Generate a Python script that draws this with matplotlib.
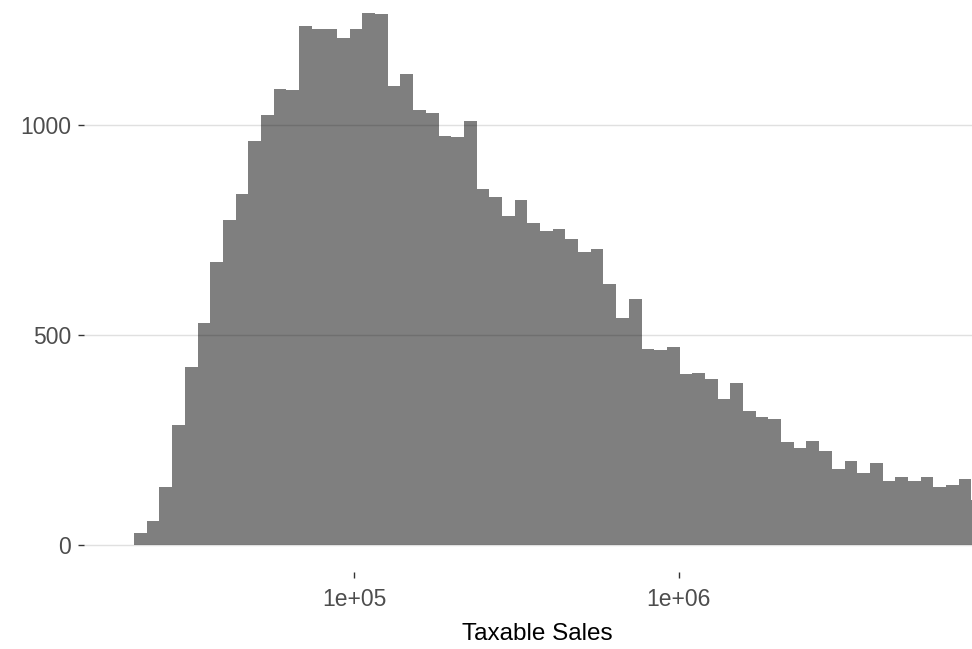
import numpy as np
import matplotlib
matplotlib.use("Agg")
import matplotlib.pyplot as plt

plt.rcParams['font.family'] = ['Liberation Sans', 'DejaVu Sans']

# histogram of taxable sales, log10 bins (only the visible part of the chart)
counts = [29, 59, 139, 287, 425, 529, 674, 774, 836, 963,
          1025, 1087, 1083, 1236, 1230, 1230, 1208, 1230, 1268, 1264,
          1093, 1121, 1036, 1030, 974, 972, 1010, 849, 829, 783,
          821, 767, 749, 754, 730, 698, 706, 621, 540, 586,
          467, 464, 472, 407, 411, 397, 349, 386, 321, 305,
          301, 245, 231, 249, 225, 182, 201, 173, 196, 153,
          162, 153, 162, 139, 144, 158, 107]
bin_lo_log10 = 4.322      # left edge of first bin
bin_step_log10 = 0.0391   # bin width in decades
x_ticks = [1e5, 1e6, 1e7]
x_tick_labels = ["1e+05", "1e+06", "1e+07"]
y_ticks = [0, 500, 1000]
y_tick_labels = ["0", "500", "1000"]
x_title = "Taxable Sales"

edges = 10 ** (bin_lo_log10 + bin_step_log10 * np.arange(len(counts) + 1))

W, H = 972, 649
fig = plt.figure(figsize=(W / 100, H / 100), dpi=100)
# panel runs past the right and top edges of the picture (it is a crop)
left, right, bottom, top = 84, 1187, 572, -14
ax = fig.add_axes([left / W, (H - bottom) / H, (right - left) / W, (bottom - top) / H])

ax.stairs(counts, edges, fill=True, color='black', alpha=0.5, linewidth=0, zorder=2)

ax.set_xscale('log')
ax.set_xlim(10 ** 4.1677, 10 ** 7.567)
ymax = max(counts)
ax.set_ylim(-0.05 * ymax, 1.05 * ymax)

ax.set_xticks(x_ticks)
ax.set_xticklabels(x_tick_labels)
ax.xaxis.set_minor_locator(matplotlib.ticker.NullLocator())
ax.set_yticks(y_ticks)
ax.set_yticklabels(y_tick_labels)

ax.yaxis.grid(True, color='#E0E0E0', linewidth=1.0, zorder=0)
ax.xaxis.grid(False)
ax.set_axisbelow(True)
for s in ax.spines.values():
    s.set_visible(False)

ax.tick_params(axis='both', length=4.3, width=1.0, color='#333333',
               labelcolor='#4D4D4D', labelsize=16.5)
ax.tick_params(axis='x', pad=7.5)
ax.tick_params(axis='y', pad=5)

ax.set_xlabel(x_title, fontsize=17.5, color='black')
# axis title sits at x ~ 537 px in the picture
ax.xaxis.set_label_coords((537 - left) / (right - left), -0.087)

fig.savefig("out.png", dpi=100)
